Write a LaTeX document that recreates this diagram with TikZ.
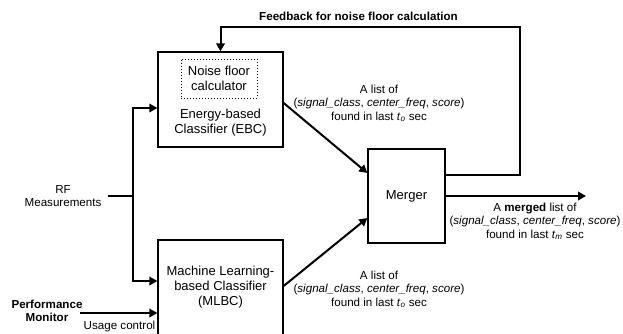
\documentclass[tikz,border=0pt]{standalone}
\usepackage{fontspec}
\setmainfont{Liberation Sans}
\usetikzlibrary{arrows.meta}
\begin{document}
\begin{tikzpicture}[x=1pt,y=-1pt,
  box/.style={draw, line width=1.3pt, inner sep=0pt},
  big/.style={font=\fontsize{13}{15}\selectfont, align=center, inner sep=0pt},
  small/.style={font=\fontsize{11.6}{13.3}\selectfont, align=center, inner sep=0pt},
  conn/.style={line width=2pt},
  arr/.style={conn, -{Triangle[length=8pt,width=8.5pt]}}]
\useasboundingbox (0,0) rectangle (623,333);
\clip (0,0) rectangle (623,333);
% boxes
\node[box, minimum width=125pt, minimum height=95pt] (ebc) at (220.5,99.5) {};
\node[draw, dotted, line width=1pt, minimum width=76pt, minimum height=39pt, big] (nfc) at (219,78.5) {Noise floor\\calculator};
\node[big] (ebct) at (220.5,123) {Energy-based\\Classifier (EBC)};
\node[box, minimum width=77pt, minimum height=94pt, big] (merger) at (406.5,196) {Merger};
\node[box, minimum width=125pt, minimum height=100pt] (mlbc) at (220.5,290) {};
\node[big] (mlbct) at (220.5,287) {Machine Learning-\\based Classifier\\(MLBC)};
% inputs
\node[small] (rf) at (63,196) {RF\\Measurements};
\coordinate (j) at (133,196);
\draw[conn] (rf.east |- j) ++(6pt,0) -- (j);
\draw[conn] (j) -- (133,108);
\draw[arr] (j) |- ([yshift=-8.5pt]ebc.west);
\draw[arr] (j) |- ([yshift=9pt]mlbc.west);
\node[small, font=\fontsize{11.6}{13.3}\selectfont\bfseries] (pm) at (47,310.5) {Performance\\Monitor};
\coordinate (pmo) at (80,313);
\draw[arr] (pmo) -- (pmo -| mlbc.west);
\node[small, anchor=east] (uc) at (155.5,326) {Usage control};
% feedback
\coordinate (fb) at (520,27);
\draw[arr] ([yshift=21pt]merger.east) -| (fb) -| (ebc.north);
\node[small, font=\fontsize{11.6}{13.3}\selectfont\bfseries] (fbt) at (358.5,16.5) {Feedback for noise floor calculation};
% classifier outputs
\draw[arr] ([yshift=-3.5pt]ebc.east) -- ([yshift=23pt]merger.west);
\draw[arr] ([yshift=4pt]mlbc.east) -- ([yshift=-22pt]merger.west);
\node[small] (l1) at (379,103.5) {A list of\\(\textit{signal\_class}, \textit{center\_freq}, \textit{score})\\found in last \textit{t}\textsubscript{\textit{o}} sec};
\node[small] (l2) at (379,289.5) {A list of\\(\textit{signal\_class}, \textit{center\_freq}, \textit{score})\\found in last \textit{t}\textsubscript{\textit{o}} sec};
% output
\coordinate (out) at (586,196);
\draw[arr] (merger.east) -- (out);
\node[small] (l3) at (535,221.5) {A \textbf{merged} list of\\(\textit{signal\_class}, \textit{center\_freq}, \textit{score})\\found in last \textit{t}\textsubscript{\textit{m}} sec};
\end{tikzpicture}
\end{document}
